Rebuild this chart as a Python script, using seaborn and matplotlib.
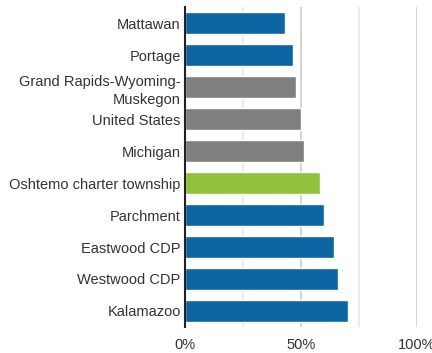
import seaborn as sns
import matplotlib.pyplot as plt
import pandas as pd

places = ['Mattawan', 'Portage', 'Grand Rapids-Wyoming-\nMuskegon', 'United States',
          'Michigan', 'Oshtemo charter township', 'Parchment', 'Eastwood CDP',
          'Westwood CDP', 'Kalamazoo']
shares = [0.432, 0.466, 0.478, 0.501, 0.512, 0.581, 0.599, 0.644, 0.662, 0.702]
kinds = ['place', 'place', 'region', 'region', 'region', 'focus', 'place', 'place',
         'place', 'place']

palette = {'place': '#0b66a3', 'region': '#7f7f7f', 'focus': '#92c13b'}

sns.set_style('white')
plt.rcParams['font.family'] = ['Liberation Sans', 'DejaVu Sans']

df = pd.DataFrame({'place': places, 'share': shares, 'kind': kinds})

fig = plt.figure(figsize=(4.32, 3.53), dpi=100)
ax = fig.add_axes([0.428, 0.0737, 0.5366, 0.9063])

# minor gridlines at 25/75, stronger at 50/100
for v in (0.25, 0.75):
    ax.axvline(v, color='#e8e8e8', lw=1.2, zorder=0)
for v in (0.5, 1.0):
    ax.axvline(v, color='#cccccc', lw=1.2, zorder=0)

sns.barplot(data=df, x='share', y='place', hue='kind', palette=palette,
            saturation=1, dodge=False, width=0.67, legend=False, ax=ax, zorder=2)

ax.set_xlim(0, 1)
ax.set_ylim(9.5, -0.5)
ax.set_xticks([0, 0.5, 1.0])
ax.set_xticklabels(['0%', '50%', '100%'])
ax.set_xlabel('')
ax.set_ylabel('')
ax.tick_params(axis='both', length=0, labelsize=10.5, colors='#333333')
ax.tick_params(axis='y', pad=3)
ax.tick_params(axis='x', pad=8)
for lbl in ax.get_yticklabels():
    lbl.set_linespacing(1.45)

for s in ('top', 'right', 'bottom'):
    ax.spines[s].set_visible(False)
ax.spines['left'].set_color('#222222')
ax.spines['left'].set_linewidth(1.5)
ax.spines['left'].set_zorder(3)

plt.savefig('out.png', dpi=100)
